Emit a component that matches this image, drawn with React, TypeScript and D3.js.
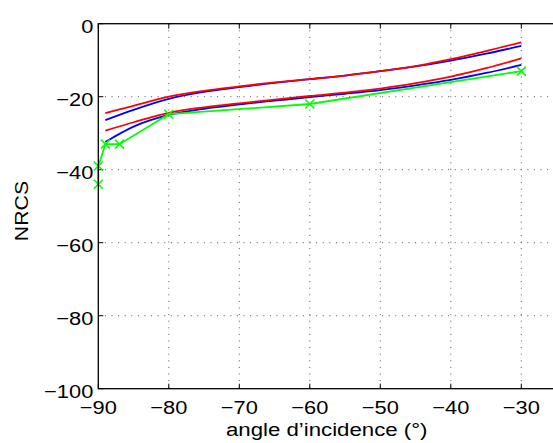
import React from "react";
import * as d3 from "d3";

const xTicks = [-90, -80, -70, -60, -50, -40, -30];
const yTicks = [0, -20, -40, -60, -80, -100];

const curveAngles = [-89, -85, -80, -75, -70, -65, -60, -55, -50, -45, -40, -35, -30];
const upperRed = [-24.5, -22.5, -20.0, -18.4, -17.2, -16.1, -15.2, -14.2, -13.0, -11.6, -9.7, -7.5, -5.1];
const upperBlue = [-26.4, -23.6, -20.6, -18.7, -17.4, -16.2, -15.2, -14.2, -13.0, -11.7, -10.1, -8.2, -6.1];
const lowerRed = [-29.3, -27.0, -24.4, -22.9, -21.8, -20.8, -19.8, -18.9, -17.8, -16.3, -14.5, -12.2, -9.5];
const lowerBlue = [-32.4, -28.2, -25.0, -23.3, -22.1, -21.1, -20.1, -19.2, -18.2, -16.9, -15.4, -13.5, -11.3];

const measAngles = [-90, -90, -89, -87, -80, -60, -30];
const measValues = [-44, -39, -33, -33, -24.8, -22, -13];

const W = 553;
const H = 443;
const left = 98.3;
const top = 23.7;
const bottom = 388.7;
const font = "'Liberation Sans', Arial, Helvetica, sans-serif";
const SX = 1.15;

export default function App() {
  const x = d3.scaleLinear().domain([-90, -25]).range([left, left + 65 * 7.05]);
  const y = d3.scaleLinear().domain([-100, 0]).range([bottom, top]);
  const right = x(-25);

  const line = d3
    .line<[number, number]>()
    .x((d) => x(d[0]))
    .y((d) => y(d[1]))
    .curve(d3.curveMonotoneX);
  const straight = d3
    .line<[number, number]>()
    .x((d) => x(d[0]))
    .y((d) => y(d[1]));

  const zip = (a: number[], b: number[]) => a.map((v, i) => [v, b[i]] as [number, number]);

  const series = [
    { vals: upperBlue, color: "#0000ff" },
    { vals: lowerBlue, color: "#0000ff" },
    { vals: upperRed, color: "#ff0000" },
    { vals: lowerRed, color: "#ff0000" },
  ];

  const meas = zip(measAngles, measValues);
  const fs = 19;

  return (
    <div style={{ position: "absolute", left: 0, top: 0 }}>
      <svg width={W} height={H} style={{ display: "block", background: "#fff" }}>
        <rect x={0} y={0} width={W} height={H} fill="#fff" />
        {/* grid */}
        {xTicks.slice(1).map((t) => (
          <line key={"gx" + t} x1={x(t)} x2={x(t)} y1={top} y2={bottom} stroke="#555" strokeWidth={1} strokeDasharray="1,5.6" />
        ))}
        {yTicks.slice(1, -1).map((t) => (
          <line key={"gy" + t} x1={left} x2={right} y1={y(t)} y2={y(t)} stroke="#555" strokeWidth={1} strokeDasharray="1,5.6" />
        ))}
        {/* ticks */}
        {xTicks.map((t) => (
          <g key={"tx" + t}>
            <line x1={x(t)} x2={x(t)} y1={bottom} y2={bottom - 5} stroke="#000" />
            <line x1={x(t)} x2={x(t)} y1={top} y2={top + 5} stroke="#000" />
          </g>
        ))}
        {yTicks.map((t) => (
          <line key={"ty" + t} x1={left} x2={left + 5} y1={y(t)} y2={y(t)} stroke="#000" />
        ))}
        {/* series */}
        {series.map((s, i) => (
          <path key={i} d={line(zip(curveAngles, s.vals)) || ""} fill="none" stroke={s.color} strokeWidth={1.8} />
        ))}
        <path d={straight(meas) || ""} fill="none" stroke="#00ff00" strokeWidth={1.8} />
        {meas.map((d, i) => {
          const cx = x(d[0]);
          const cy = y(d[1]);
          const r = 4.5;
          return (
            <path key={"m" + i} d={`M${cx - r},${cy - r}L${cx + r},${cy + r}M${cx - r},${cy + r}L${cx + r},${cy - r}`} stroke="#00ff00" strokeWidth={1.5} fill="none" />
          );
        })}
        {/* axes box */}
        <rect x={left} y={top} width={right - left} height={bottom - top} fill="none" stroke="#000" strokeWidth={1.3} />
        {/* tick labels */}
        {xTicks.map((t) => (
          <text key={"lx" + t} transform={`translate(${x(t)},${bottom + 25.5}) scale(${SX},1)`} textAnchor="middle" fontFamily={font} fontSize={fs} fill="#000">
            {"\u2212" + Math.abs(t)}
          </text>
        ))}
        {yTicks.map((t) => (
          <text key={"ly" + t} transform={`translate(${left - 5},${y(t) + 9}) scale(${SX},1)`} textAnchor="end" fontFamily={font} fontSize={fs} fill="#000">
            {t === 0 ? "0" : "\u2212" + Math.abs(t)}
          </text>
        ))}
        <text transform={`translate(${326.7},${436}) scale(${SX + 0.02},1)`} textAnchor="middle" fontFamily={font} fontSize={fs} fill="#000">
          angle d’incidence (°)
        </text>
        <text transform={`translate(${28},${211}) rotate(-90) scale(${SX - 0.03},1)`} textAnchor="middle" fontFamily={font} fontSize={fs} fill="#000">
          NRCS
        </text>
      </svg>
    </div>
  );
}
